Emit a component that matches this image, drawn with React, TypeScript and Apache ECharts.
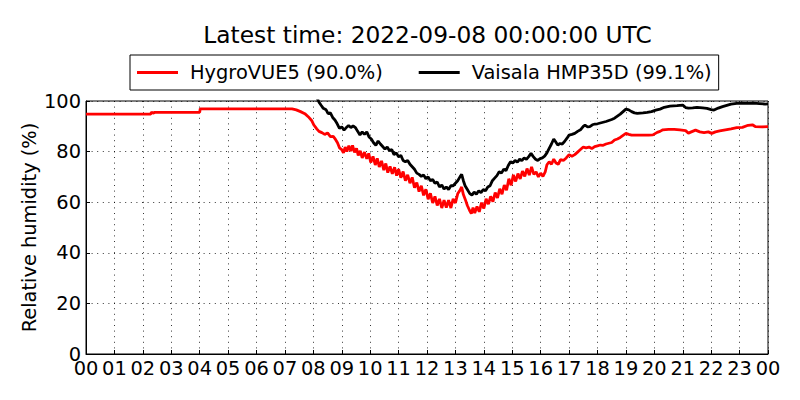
import React, { useEffect, useRef } from "react";
import * as echarts from "echarts";

const titleText = "Latest time: 2022-09-08 00:00:00 UTC";
const seriesNames = ["HygroVUE5 (90.0%)", "Vaisala HMP35D (99.1%)"];
const hourLabels = ["00","01","02","03","04","05","06","07","08","09","10","11","12","13","14","15","16","17","18","19","20","21","22","23","00"];
const yTicks = [0, 20, 40, 60, 80, 100];

// [hour of day, relative humidity %]
const hygroVue5: [number, number][] = [
  [0, 94.8], [2.28, 94.8], [2.3, 95.6], [2.36, 95.2], [2.42, 95.5], [4.0, 95.5], [4.02, 96.9],
  [7.25, 96.9], [7.4, 96.5], [7.55, 95.8], [7.7, 95.0], [7.82, 93.8], [7.94, 92.3], [8.02, 90.5],
  [8.12, 89.0], [8.2, 88.0], [8.3, 87.5], [8.4, 86.8], [8.5, 87.4], [8.6, 85.9], [8.7, 86.0],
  [8.78, 84.8], [8.85, 83.5], [8.92, 81.5], [9.0, 80.8], [9.06, 79.5], [9.12, 81.8], [9.18, 80.0],
  [9.25, 82.3], [9.32, 80.2], [9.38, 82.5], [9.45, 79.7], [9.52, 81.3], [9.58, 78.5], [9.65, 80.3],
  [9.72, 77.5], [9.8, 79.8], [9.88, 77.2], [9.95, 79.3], [10.02, 75.7], [10.1, 78.1], [10.18, 74.7],
  [10.25, 77.3], [10.32, 73.9], [10.4, 76.3], [10.48, 72.7], [10.55, 75.3], [10.62, 71.7], [10.7, 74.1],
  [10.78, 71.2], [10.86, 73.8], [10.93, 70.5], [11.0, 73.1], [11.08, 69.7], [11.16, 72.1], [11.24, 68.5],
  [11.32, 70.8], [11.4, 67.5], [11.48, 69.8], [11.56, 65.7], [11.64, 67.8], [11.72, 64.2], [11.8, 66.5],
  [11.88, 62.7], [11.96, 65.1], [12.04, 61.2], [12.12, 63.5], [12.2, 59.7], [12.28, 62.3], [12.36, 58.7],
  [12.44, 61.3], [12.52, 57.7], [12.6, 60.8], [12.68, 57.9], [12.76, 60.8], [12.84, 57.7], [12.92, 61.3],
  [13.0, 59.7], [13.08, 63.3], [13.15, 64.5], [13.22, 66.0], [13.28, 63.0], [13.35, 61.0], [13.42, 58.7],
  [13.5, 56.7], [13.56, 55.5], [13.62, 57.8], [13.68, 55.7], [13.76, 58.3], [13.84, 56.2], [13.92, 59.8],
  [14.0, 57.5], [14.08, 61.3], [14.16, 59.2], [14.24, 62.3], [14.32, 60.2], [14.4, 63.8], [14.48, 61.7],
  [14.56, 65.3], [14.64, 63.2], [14.72, 66.8], [14.8, 64.7], [14.88, 69.3], [14.96, 66.7], [15.04, 70.8],
  [15.12, 68.2], [15.2, 71.3], [15.28, 69.2], [15.36, 72.3], [15.44, 70.2], [15.52, 73.3], [15.6, 70.7],
  [15.68, 74.0], [15.76, 71.0], [15.84, 72.0], [15.92, 70.0], [16.0, 71.5], [16.08, 70.2], [16.16, 72.0],
  [16.22, 74.8], [16.3, 76.0], [16.38, 75.0], [16.46, 77.0], [16.54, 75.5], [16.62, 75.0], [16.7, 76.8],
  [16.8, 76.5], [16.9, 77.5], [17.0, 78.8], [17.1, 78.2], [17.2, 78.8], [17.3, 79.8], [17.4, 80.8],
  [17.5, 81.8], [17.6, 81.5], [17.7, 81.8], [17.8, 81.2], [17.9, 82.0], [18.0, 82.3], [18.1, 82.6],
  [18.2, 82.5], [18.3, 83.0], [18.4, 83.3], [18.5, 83.6], [18.6, 84.6], [18.7, 85.0], [18.8, 85.6],
  [18.9, 86.4], [19.0, 87.2], [19.1, 86.8], [19.2, 86.5], [19.4, 86.5], [19.6, 86.5], [19.8, 86.5],
  [19.95, 86.6], [20.1, 87.6], [20.2, 88.0], [20.3, 88.6], [20.5, 88.8], [20.7, 88.8], [20.9, 88.6],
  [21.1, 88.3], [21.2, 87.3], [21.3, 87.8], [21.45, 88.5], [21.6, 87.8], [21.75, 87.5], [21.9, 87.8],
  [22.02, 87.2], [22.15, 87.8], [22.3, 88.2], [22.5, 88.6], [22.7, 89.0], [22.9, 89.5], [23.1, 89.6],
  [23.3, 90.4], [23.45, 90.6], [23.55, 89.9], [23.8, 89.8], [24.0, 89.9],
];

const vaisalaHmp35d: [number, number][] = [
  [0, 102], [8.12, 101.5], [8.2, 99.5], [8.28, 98.2], [8.35, 97.1], [8.45, 96.5], [8.52, 95.0],
  [8.6, 95.3], [8.68, 93.5], [8.76, 92.5], [8.84, 91.0], [8.92, 89.2], [9.0, 89.8], [9.08, 88.5],
  [9.16, 89.5], [9.24, 90.3], [9.32, 89.5], [9.4, 90.2], [9.48, 89.5], [9.56, 88.0], [9.64, 86.6],
  [9.72, 87.8], [9.8, 86.8], [9.88, 87.8], [9.96, 85.8], [10.04, 85.0], [10.12, 83.5], [10.2, 82.5],
  [10.28, 84.2], [10.36, 83.0], [10.44, 82.0], [10.52, 81.0], [10.6, 81.8], [10.68, 80.3], [10.76, 80.8],
  [10.84, 78.8], [10.92, 79.5], [11.0, 78.0], [11.08, 78.5], [11.16, 76.5], [11.24, 76.0], [11.32, 76.5],
  [11.4, 75.0], [11.48, 74.0], [11.56, 73.0], [11.64, 71.5], [11.72, 71.0], [11.8, 70.2], [11.88, 70.8],
  [11.96, 69.3], [12.04, 70.0], [12.12, 68.5], [12.2, 69.0], [12.28, 67.5], [12.36, 68.0], [12.44, 66.0],
  [12.52, 66.8], [12.6, 65.2], [12.68, 66.0], [12.76, 65.0], [12.84, 66.5], [12.92, 66.5], [13.0, 67.5],
  [13.08, 68.5], [13.16, 70.0], [13.22, 71.0], [13.28, 68.5], [13.34, 66.5], [13.42, 65.0], [13.5, 63.5],
  [13.58, 62.8], [13.66, 64.0], [13.74, 63.2], [13.82, 64.5], [13.9, 63.8], [13.98, 65.0], [14.06, 64.5],
  [14.14, 66.0], [14.22, 66.5], [14.3, 68.5], [14.38, 69.5], [14.46, 70.5], [14.54, 72.0], [14.62, 71.5],
  [14.7, 73.0], [14.78, 72.5], [14.86, 74.5], [14.94, 76.0], [15.02, 75.5], [15.1, 76.5], [15.18, 75.8],
  [15.26, 77.0], [15.34, 76.5], [15.42, 77.5], [15.5, 77.0], [15.58, 78.0], [15.66, 79.3], [15.74, 78.0],
  [15.82, 77.0], [15.9, 76.5], [15.98, 77.2], [16.06, 77.5], [16.14, 78.2], [16.22, 79.5], [16.3, 81.3],
  [16.38, 83.0], [16.46, 85.0], [16.52, 84.0], [16.6, 82.6], [16.68, 83.2], [16.76, 83.0], [16.84, 84.0],
  [16.92, 85.2], [17.0, 86.5], [17.1, 86.8], [17.2, 87.2], [17.3, 88.0], [17.4, 88.6], [17.5, 90.0],
  [17.56, 90.5], [17.65, 89.8], [17.73, 89.9], [17.82, 90.6], [17.91, 90.9], [18.0, 91.0], [18.1, 91.3],
  [18.2, 91.6], [18.3, 91.9], [18.4, 92.3], [18.5, 92.7], [18.6, 93.2], [18.7, 94.0], [18.8, 94.8],
  [18.9, 95.8], [19.0, 96.8], [19.1, 96.5], [19.2, 95.8], [19.3, 95.3], [19.4, 95.1], [19.6, 95.3],
  [19.75, 95.5], [19.9, 95.8], [20.05, 96.4], [20.2, 96.8], [20.35, 97.5], [20.55, 98.0], [20.8, 98.2],
  [21.0, 98.4], [21.1, 97.4], [21.2, 97.2], [21.35, 97.3], [21.5, 97.5], [21.7, 97.3], [21.85, 97.1],
  [22.0, 96.6], [22.1, 96.4], [22.25, 97.2], [22.4, 97.8], [22.55, 98.3], [22.7, 98.8], [22.9, 99.1],
  [23.1, 99.2], [23.3, 99.1], [23.5, 99.2], [23.7, 99.0], [23.9, 98.8], [24.0, 98.9],
];

const FONT = "DejaVu Sans";
const gridDots = { color: "#000", width: 0.8, type: [1, 4.6] as number[] };

export default function App() {
  const ref = useRef<HTMLDivElement>(null);
  useEffect(() => {
    document.body.style.margin = "0";
    if (!ref.current) return;
    const chart = echarts.init(ref.current, null, { renderer: "svg" });
    chart.setOption({
      animation: false,
      backgroundColor: "#ffffff",
      textStyle: { fontFamily: FONT },
      title: {
        text: titleText,
        left: 427.5,
        top: 22.6,
        padding: 0,
        textAlign: "center",
        textStyle: { fontFamily: FONT, fontSize: 23.3, fontWeight: "normal", color: "#000" },
      },
      legend: {
        left: 130,
        top: 55,
        padding: [8, 7, 8, 7],
        itemGap: 36,
        itemWidth: 41,
        itemHeight: 3,
        icon: "rect",
        borderColor: "#000",
        borderWidth: 1,
        borderRadius: 0,
        textStyle: { fontFamily: FONT, fontSize: 19.4, color: "#000", padding: [0, 0, 0, 7] },
        data: seriesNames,
      },
      grid: {
        left: 86,
        right: 32,
        top: 101,
        bottom: 46,
        show: true,
        borderColor: "#000",
        borderWidth: 1,
        backgroundColor: "transparent",
      },
      xAxis: {
        type: "value",
        min: 0,
        max: 24,
        interval: 1,
        axisLine: { show: true, lineStyle: { color: "#000", width: 1 } },
        axisTick: { show: true, inside: true, length: 4, lineStyle: { color: "#000" } },
        axisLabel: {
          margin: 7.7,
          lineHeight: 14,
          fontFamily: FONT,
          fontSize: 19.4,
          color: "#000",
          formatter: (v: number) => hourLabels[Math.round(v)] ?? "",
        },
        splitLine: { show: true, lineStyle: gridDots },
      },
      yAxis: {
        type: "value",
        min: yTicks[0],
        max: yTicks[yTicks.length - 1],
        interval: 20,
        name: "Relative humidity (%)",
        nameLocation: "middle",
        nameGap: 47,
        nameRotate: 90,
        nameMoveOverlap: false,
        nameTextStyle: { fontFamily: FONT, fontSize: 19.4, color: "#000" },
        axisLine: { show: true, lineStyle: { color: "#000", width: 1 } },
        axisTick: { show: true, inside: true, length: 4, lineStyle: { color: "#000" } },
        axisLabel: { margin: 5, fontFamily: FONT, fontSize: 19.4, color: "#000", lineHeight: 12 },
        splitLine: { show: true, lineStyle: gridDots },
      },
      series: [
        {
          name: seriesNames[0],
          type: "line",
          data: hygroVue5,
          symbol: "none",
          showSymbol: false,
          clip: true,
          color: "#ff0000",
          lineStyle: { color: "#ff0000", width: 2.8 },
          z: 2,
        },
        {
          name: seriesNames[1],
          type: "line",
          data: vaisalaHmp35d,
          symbol: "none",
          showSymbol: false,
          clip: true,
          color: "#000000",
          lineStyle: { color: "#000000", width: 2.8 },
          z: 3,
        },
      ],
    });
    return () => chart.dispose();
  }, []);
  return <div ref={ref} style={{ width: 800, height: 400 }} />;
}
